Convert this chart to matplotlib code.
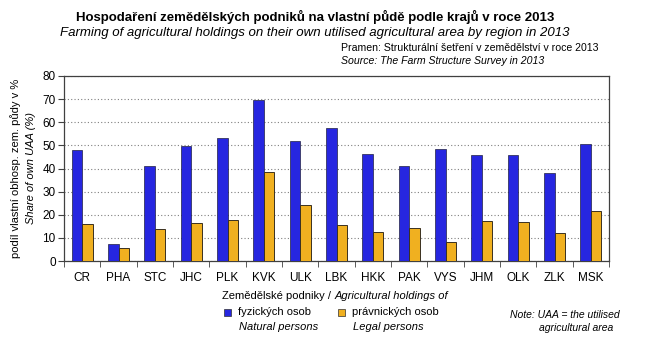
import matplotlib
matplotlib.use('Agg')
import matplotlib.pyplot as plt
from matplotlib.patches import Rectangle
import numpy as np

plt.rcParams['font.family'] = ['Liberation Sans', 'DejaVu Sans']

regions = ['CR', 'PHA', 'STC', 'JHC', 'PLK', 'KVK', 'ULK', 'LBK',
           'HKK', 'PAK', 'VYS', 'JHM', 'OLK', 'ZLK', 'MSK']
natural = [48.1, 7.5, 41.2, 49.8, 53.2, 69.6, 51.9, 57.6,
           46.2, 41.2, 48.3, 45.8, 45.8, 38.0, 50.5]
legal = [16.1, 5.6, 14.0, 16.4, 17.7, 38.4, 24.2, 15.7,
         12.5, 14.2, 8.2, 17.3, 16.8, 12.1, 21.6]

BLUE = '#2626e0'
ORANGE = '#f0b020'
W, H = 645, 347

def fx(px):
	return px / W

def fy(py):
	return 1 - py / H

fig = plt.figure(figsize=(W/100, H/100), dpi=100)
ax = fig.add_axes([fx(64), fy(261), fx(609) - fx(64), fy(76) - fy(261)])

x = np.arange(len(regions))
bw = 0.29
ax.bar(x - bw/2, natural, bw, color=BLUE, edgecolor='#202040', linewidth=0.5, zorder=3)
ax.bar(x + bw/2, legal, bw, color=ORANGE, edgecolor='#3a3020', linewidth=0.7, zorder=3)

ax.set_xlim(-0.5, len(regions) - 0.5)
ax.set_ylim(0, 80)
ax.set_yticks(range(0, 81, 10))
ax.yaxis.grid(True, linestyle=(0, (1, 2)), color='#808080', linewidth=0.8, zorder=0)
ax.set_xticks(x)
ax.set_xticklabels(regions)
ax.set_xticks(np.arange(-0.5, len(regions)), minor=True)
ax.tick_params(axis='x', which='major', length=0, labelsize=8.5, pad=8)
ax.tick_params(axis='x', which='minor', length=4, direction='out', color='#404040')
ax.tick_params(axis='y', length=4, direction='out', labelsize=8.5, color='#404040', pad=2)
for s in ax.spines.values():
	s.set_color('#404040')
	s.set_linewidth(0.9)

# y axis label, two lines
fig.text(fx(16), fy(168), 'podíl vlastní obhosp. zem. půdy v %', rotation=90,
         ha='center', va='center', fontsize=8)
fig.text(fx(31), fy(168), 'Share of own UAA (%)', rotation=90, style='italic',
         ha='center', va='center', fontsize=8)

# titles
fig.text(fx(315), fy(17), 'Hospodaření zemědělských podniků na vlastní půdě podle krajů v roce 2013',
         ha='center', va='center', fontsize=9.5, fontweight='bold')
fig.text(fx(315), fy(33), 'Farming of agricultural holdings on their own utilised agricultural area by region in 2013',
         ha='center', va='center', fontsize=9.5, style='italic')
fig.text(fx(341), fy(48), 'Pramen: Strukturální šetření v zemědělství v roce 2013',
         ha='left', va='center', fontsize=7.6)
fig.text(fx(341), fy(61), 'Source: The Farm Structure Survey in 2013',
         ha='left', va='center', fontsize=7.6, style='italic')

# x axis caption in two styles, second part placed after the first
t1 = fig.text(fx(222), fy(296), 'Zemědělské podniky / ', ha='left', va='center', fontsize=8)
fig.canvas.draw()
bb = t1.get_window_extent()
fig.text(bb.x1 / W, fy(296), 'Agricultural holdings of', ha='left', va='center',
         fontsize=8, style='italic')

for lx, col, cz, en in [(224, BLUE, 'fyzických osob', 'Natural persons'),
                        (338, ORANGE, 'právnických osob', 'Legal persons')]:
	fig.patches.append(Rectangle((fx(lx), fy(316)), fx(7), fy(309) - fy(316),
	                             transform=fig.transFigure, facecolor=col,
	                             edgecolor='#303030', linewidth=0.5))
	fig.text(fx(lx + 14), fy(312), cz, ha='left', va='center', fontsize=8)
	fig.text(fx(lx + 15), fy(327), en, ha='left', va='center', fontsize=8, style='italic')

fig.text(fx(620), fy(315), 'Note: UAA = the utilised', ha='right', va='center',
         fontsize=7.5, style='italic')
fig.text(fx(613), fy(328), 'agricultural area', ha='right', va='center',
         fontsize=7.5, style='italic')

fig.savefig('out.png', dpi=100)
